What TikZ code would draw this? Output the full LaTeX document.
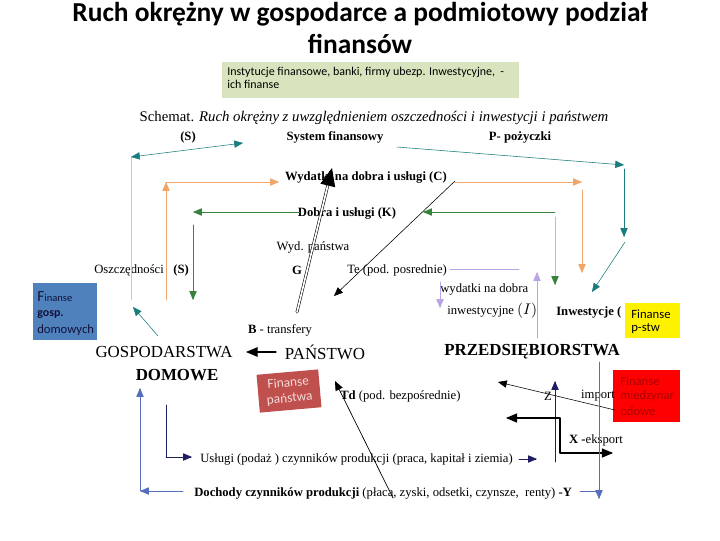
\documentclass[tikz,border=0pt]{standalone}
\usepackage{fontspec}
\setmainfont{Liberation Serif}
\newfontfamily\calibri{Carlito}
\usetikzlibrary{arrows}

\definecolor{tealc}{RGB}{25,125,125}
\definecolor{paleteal}{RGB}{190,205,205}
\definecolor{orangec}{RGB}{240,165,105}
\definecolor{greenc}{RGB}{55,130,60}
\definecolor{lavc}{RGB}{185,165,230}
\definecolor{navyc}{RGB}{30,30,100}
\definecolor{bluec}{RGB}{85,110,190}
\definecolor{boxgreen}{RGB}{215,228,189}
\definecolor{boxblue}{RGB}{79,129,189}
\definecolor{boxbrown}{RGB}{192,80,77}
\definecolor{darkred}{RGB}{175,0,0}

\tikzset{
  lbl/.style={inner sep=0pt,font=\fontsize{9}{11}\selectfont},
  blbl/.style={lbl,font=\fontsize{9}{11}\selectfont\bfseries},
  sector/.style={inner sep=0pt,font=\fontsize{12}{14}\selectfont},
  finlbl/.style={inner sep=0pt,anchor=west,font=\calibri\fontsize{9}{11}\selectfont}
}

\begin{document}
\begin{tikzpicture}[line cap=round,line join=round,>=triangle 45,x=0.025cm,y=-0.025cm]
    \useasboundingbox (0,0) rectangle (720,540);
    % title and the boxes
    \node[inner sep=0pt,align=center,font=\calibri\fontsize{19.5}{23}\selectfont\bfseries] (title) at (360,28)
      {Ruch okrężny w gospodarce a podmiotowy podział\\finansów};
    \fill[boxgreen] (222,62) rectangle (519,98);
    \node[finlbl,anchor=north west,align=left,font=\calibri\fontsize{8.5}{9.5}\selectfont] (inst) at (227,67)
      {Instytucje finansowe, banki, firmy ubezp. Inwestycyjne,~~-\\ich finanse};
    \fill[boxblue] (33,283) rectangle (97,340);
    \node[finlbl,text=navyc!60!black] (gd1) at (37,297) {\fontsize{11}{12}\selectfont F\fontsize{7.5}{9}\selectfont inanse};
    \node[finlbl,text=navyc!60!black,font=\calibri\fontsize{8.5}{10}\selectfont\bfseries] (gd2) at (37,315) {gosp.};
    \node[finlbl,text=navyc!60!black] (gd3) at (37,330) {domowych};
    \fill[red] (613,370) rectangle (680,422);
    \node[finlbl,text=darkred] (mf1) at (620,381) {Finanse};
    \node[finlbl,text=darkred] (mf2) at (620,396) {miedzynar};
    \node[finlbl,text=darkred] (mf3) at (620,411) {odowe};
    \node[rotate=5,fill=boxbrown,minimum width=44pt,minimum height=27pt,align=center,inner sep=1pt,
      text=white!80!boxbrown,font=\calibri\fontsize{9.5}{11}\selectfont] (fp) at (289,391) {Finanse\\państwa};

    % texts of the scheme
    \node[lbl,font=\fontsize{10.5}{12}\selectfont] (schemat) at (374,118)
      {Schemat. \textit{Ruch okrężny z uwzględnieniem oszczedności i inwestycji i państwem}};
    \node[blbl] (S) at (188,137) {(S)};
    \node[blbl] (sysfin) at (335,137) {System finansowy};
    \node[blbl] (P) at (520,137) {P- pożyczki};
    \node[blbl] (C) at (366,178) {Wydatki na dobra i usługi (C)};
    \node[blbl] (K) at (347,213) {Dobra i usługi (K)};
    \node[lbl] (wyd) at (313,247) {Wyd. państwa};
    \node[blbl] (G) at (297,270) {G};
    \node[lbl,anchor=west] (Te) at (347,270) {Te (pod. posrednie)};
    \node[lbl,anchor=west] (wi1) at (440,289) {wydatki na dobra};
    \node[lbl,anchor=west] (wi2) at (447,311) {inwestycyjne \fontsize{11}{12}\selectfont$(I)$};
    \node[blbl,anchor=west] (inw) at (556,312) {Inwestycje (};
    \fill[yellow] (625,303) rectangle (680,338);
    \node[finlbl] (ps1) at (631,314) {Finanse};
    \node[finlbl] (ps2) at (631,329) {p-stw};
    \node[lbl,anchor=west] (oszcz) at (94,270) {Oszczędności~~~\textbf{(S)}};
    \node[lbl] (B) at (280,330) {\textbf{B} - transfery};
    \node[sector] (gosp) at (164,352) {GOSPODARSTWA};
    \node[sector,font=\fontsize{12}{14}\selectfont\bfseries] (dom) at (177,375) {DOMOWE};
    \node[sector] (pan) at (325,352) {PAŃSTWO};
    \node[sector,font=\fontsize{12}{14}\selectfont\bfseries] (przed) at (532,352) {PRZEDSIĘBIORSTWA};
    \node[lbl,anchor=west] (Td) at (340,396) {\textbf{Td} (pod. bezpośrednie)};
    \node[lbl] (Z) at (548,396) {Z};
    \node[lbl] (imp) at (598,396) {import};
    \node[lbl] (X) at (596,440) {\textbf{X -}eksport};
    \node[lbl,anchor=west] (usl) at (200,459) {Usługi (podaż ) czynników produkcji (praca, kapitał i ziemia)};
    \node[lbl,anchor=west] (doch) at (194,493) {\textbf{Dochody czynników produkcji} (płaca, zyski, odsetki, czynsze,~ renty) \textbf{-Y}};

    % free ends of the connectors
    \coordinate (sL) at (131,157);
    \coordinate (sR) at (243,143);
    \coordinate (sB) at (131,300);
    \coordinate (pL) at (397,147);
    \coordinate (pR) at (624,165);
    \coordinate (pB) at (624,237);
    \coordinate (pI) at (592,292);
    \coordinate (oB) at (166,300);
    \coordinate (oT) at (166,182);
    \coordinate (oC) at (279,182);
    \coordinate (oR) at (582,182);
    \coordinate (oI) at (582,273);
    \coordinate (kL) at (193,212);
    \coordinate (kB) at (193,300);
    \coordinate (kR) at (555,212);
    \coordinate (kI) at (555,285);
    \coordinate (gB) at (297,312);
    \coordinate (gT) at (332,168);
    \coordinate (tT) at (455,181);
    \coordinate (tB) at (334,296);
    \coordinate (bR) at (276,352);
    \coordinate (bL) at (246,352);
    \coordinate (ydL) at (183,491);
    \coordinate (ydC) at (140,491);
    \coordinate (ydT) at (140,388);
    \coordinate (yT) at (599,362);
    \coordinate (yB) at (599,499);

    % savings and loans
    \draw[paleteal] (sB) -- (sL);
    \draw[tealc,<->] (sL) -- (sR);
    \draw[tealc,->] (158,336) -- (133,307);
    \draw[tealc,->] (pL) -- (pR);
    \draw[tealc,->] (pR) ++(0,4) -- (pB);
    \draw[tealc,->] (pB) ++(1,5) -- (pI);
    % consumption
    \draw[orangec,->] (oB) -- (oT);
    \draw[orangec,->] (oT) -- (oC);
    \draw[orangec,->] (oR) ++(-127,0) -- (oR);
    \draw[orangec,->] (oR) ++(0,8) -- (oI);
    % goods
    \draw[greenc,->] (kL) ++(107,0) -- (kL);
    \draw[greenc,->] (kL) ++(0,13) -- (kB);
    \draw[greenc,->] (kR) -- ++(-132,0);
    \draw[black!25] (kR) ++(0,5) -- ++(0,60);
    \draw[greenc,->] (kI) ++(0,-8) -- (kI);
    % state
    \draw[double,double distance=1.2pt,->] (gB) -- (gT);
    \draw[->] (tT) -- (tB);
    \draw[->,line width=0.9pt] (bR) -- (bL);
    \draw[->,line width=0.5pt] (393,498) -- (335,381);
    % investment
    \draw[lavc] (450,269) -- (519,269);
    \draw[lavc,->] (440,282) -- (440,308);
    \draw[lavc,->] (537,338) -- (537,272);
    % foreign trade
    \draw[->] (615,410) -- (498,382);
    \draw[navyc,->] (555,462) -- (555,381);
    \draw[<->,line width=0.8pt] (506,418) -- (560,418) -- (560,453) -- (613,453);
    % factor incomes and services
    \draw[bluec,->] (yT) -- (yB);
    \draw[bluec] (580,491) -- (yB |- ydL);
    \draw[bluec,->] (ydL) -- (ydC);
    \draw[bluec,->] (ydC) -- (ydT);
    \draw[navyc] (166,405) -- (166,457);
    \draw[navyc,->] (166,457) -- (192,457);
    \draw[navyc,->] (usl.east) ++(6,0) -- ++(18,0);
  \end{tikzpicture}
\end{document}
